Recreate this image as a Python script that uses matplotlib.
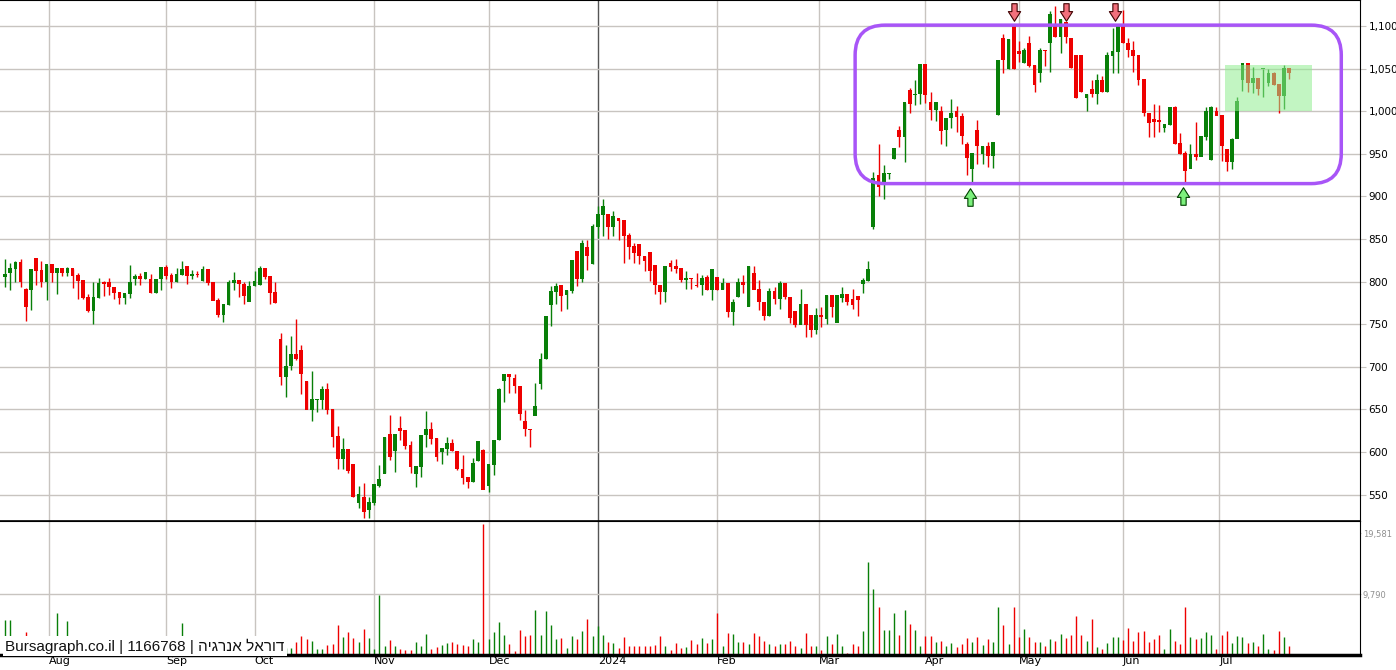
import numpy as np
import matplotlib
matplotlib.use("Agg")
import matplotlib.pyplot as plt
from matplotlib.path import Path
from matplotlib.patches import FancyBboxPatch, Rectangle
from matplotlib.transforms import IdentityTransform

opens = [806,810,815,823,791,790,827,813,800,820,810,815,811,815,807,801,781,766,781,799,799,793,787,781,786,804,806,803,803,787,804,817,807,800,808,818,807,809,801,814,799,778,761,773,799,801,797,777,795,796,815,806,787,
         732,688,701,715,719,683,650,662,662,673,650,618,592,603,585,541,547,532,541,561,575,621,601,628,625,608,575,583,620,627,616,600,604,610,601,
         580,570,565,590,602,560,585,
         614,684,691,687,677,636,627,643,680,709,773,788,796,785,789,836,803,840,821,865,879,879,864,874,872,854,841,844,830,834,819,796,788,822,818,815,802,804,796,796,805,790,805,791,798,765,782,799,771,810,791,776,760,789,780,798,782,765,750,773,760,744,760,756,784,752,781,785,779,783,798,801,
         865,925,916,927,944,978,970,1025,1019,1020,1055,1010,1002,1000,978,992,1000,994,961,932,978,950,959,948,996,1086,1050,1100,1070,1057,1080,1054,1045,1072,1080,1099,1087,1104,1086,1065,1065,1016,1026,1020,1036,1023,1065,1070,1100,1080,1072,1065,1037,998,990,989,981,984,1005,962,950,933,949,947,970,943,1000,995,955,941,968,1037,1056,1034,1039,1050,1034,1045,1031,1018,1050]
highs = [827,822,824,827,793,815,827,824,820,820,815,815,817,815,810,801,786,799,804,801,804,793,787,786,819,809,810,811,809,803,817,819,810,816,824,818,814,812,818,814,799,781,773,802,811,801,800,801,813,818,815,806,799,
         740,726,736,756,726,683,695,662,678,681,650,631,616,603,585,560,564,547,562,585,618,643,621,642,625,613,583,620,648,635,616,604,618,615,601,
         596,570,593,613,603,585,614,
         675,691,691,691,677,649,627,681,716,759,795,798,796,790,825,836,849,849,868,889,897,879,883,874,872,857,845,844,830,834,819,796,818,825,826,815,813,804,810,808,808,815,805,804,798,780,804,808,818,818,802,776,792,794,801,798,782,765,791,773,760,769,770,784,784,784,794,785,791,783,804,824,
         929,962,937,928,956,983,1010,1027,1037,1055,1055,1022,1010,1006,992,1014,1006,998,964,951,990,959,964,964,1060,1091,1085,1101,1082,1074,1088,1054,1074,1072,1118,1123,1108,1104,1086,1065,1065,1020,1037,1044,1041,1070,1098,1100,1119,1086,1082,1065,1037,998,1009,1007,984,1005,1006,974,953,962,987,970,1005,1006,1005,995,955,969,1017,1056,1056,1052,1039,1050,1050,1046,1031,1054,1050]
lows = [794,790,799,794,754,767,796,794,778,799,786,806,807,792,780,780,764,750,781,783,784,779,774,774,781,796,796,803,787,787,790,803,792,800,808,797,803,805,801,796,778,759,752,773,790,782,774,777,795,796,803,774,775,
        679,665,696,708,668,650,636,647,650,645,606,580,580,575,547,534,522,522,538,559,575,591,577,614,603,575,559,571,606,609,590,586,597,601,579,
        563,558,565,590,556,553,573,
        614,659,669,669,637,619,606,643,674,709,748,774,766,768,787,795,800,814,821,851,853,850,853,849,822,827,822,821,812,801,785,774,776,812,810,800,791,791,794,784,790,778,790,791,759,749,782,787,771,791,767,755,760,774,768,779,751,747,750,735,735,739,747,750,759,752,776,772,768,760,787,801,
        862,901,897,920,944,958,940,998,1007,1009,1010,990,988,961,959,980,976,961,925,915,938,938,935,933,996,1045,1050,1050,1058,1057,1052,1022,1034,1053,1046,1087,1068,1080,1051,1016,1023,1000,1017,1009,1023,1023,1045,1045,1080,1064,1046,1031,994,970,970,975,976,984,962,950,916,933,943,947,966,943,995,941,930,932,968,1024,1023,1021,1019,1017,1030,1031,998,1002,1038]
closes = [809,815,823,800,771,814,813,800,820,810,815,811,815,807,801,781,766,781,798,797,794,787,781,786,799,806,803,811,787,803,817,807,800,808,814,807,809,808,814,799,778,761,773,799,801,797,784,795,800,815,806,787,775,
          688,701,715,710,692,650,662,662,673,650,618,592,603,578,547,550,530,541,562,568,617,594,621,625,608,583,583,620,627,616,595,604,610,601,581,
          570,565,587,613,556,585,614,
          674,691,689,678,645,627,626,654,709,759,788,795,784,790,825,803,845,831,865,879,888,864,876,872,854,841,834,830,825,813,796,788,818,818,815,802,804,803,795,804,790,814,790,798,765,776,799,796,818,791,776,760,789,780,798,782,758,750,773,749,744,760,759,784,771,784,785,776,773,779,801,814,
          921,911,927,927,956,970,1010,1009,1020,1055,1019,1002,1010,977,992,998,994,971,945,951,959,959,948,963,1060,1060,1084,1050,1067,1072,1054,1031,1072,1071,1114,1087,1108,1087,1051,1016,1023,1020,1020,1036,1023,1065,1070,1100,1080,1072,1065,1037,998,986,988,988,984,1005,962,950,930,949,947,970,1000,1005,995,959,941,967,1011,1056,1034,1039,1026,1050,1045,1031,1018,1050,1045]

# volume, in units of 160.5 shares
volumes = [35,35,10,12,23,10,8,12,10,9,42,10,34,10,8,9,10,9,8,10,9,10,8,10,9,8,12,10,9,8,10,9,11,9,32,10,9,8,10,9,8,10,9,11,10,9,8,10,9,12,10,9,8,11,
           7,7,13,19,16,14,6,6,10,11,30,18,23,17,13,26,17,6,60,9,15,9,6,5,5,13,9,21,6,8,10,12,13,11,10,9,16,13,131,16,23,33,20,11,4,25,19,20,45,20,44,30,16,17,7,19,16,24,36,19,29,20,13,12,7,18,9,9,9,9,9,10,19,9,5,12,7,8,
           15,11,17,12,16,42,9,22,21,13,13,11,22,19,14,11,9,11,11,14,9,7,22,9,9,5,19,11,21,9,2,11,9,24,93,66,48,25,25,42,20,45,31,25,9,19,19,13,14,9,12,8,11,17,13,18,10,16,13,48,30,11,48,18,26,18,13,13,9,16,14,21,17,20,39,20,14,36,8,6,12,18,18,15,27,14,23,24,13,16,20,6,26,14,11,48,18,16,17,23,20,6,20,24,12,19,18,12,13,9,21,6,5,24,18,9]
VOL_UNIT = 160.5

month_labels = ["Aug", "Sep", "Oct", "Nov", "Dec", "2024", "Feb", "Mar", "Apr", "May", "Jun", "Jul"]
month_pos = [8.5, 31, 48, 71, 93, 114, 137, 156.5, 177, 195, 215, 233.5]
price_ticks = [550, 600, 650, 700, 750, 800, 850, 900, 950, 1000, 1050, 1100]
vol_ticks = [9790, 19581]
down_arrows = [(194, 1116), (204, 1116), (213.5, 1116)]
up_arrows = [(185.5, 899), (226.5, 900)]
channel = (163.5, 915, 257, 1101)
green_zone = (234.6, 1000, 251.3, 1054)

o, h, l, c = map(np.array, (opens, highs, lows, closes))
n = len(o)
x = np.arange(n)
RED, GREEN = "#ee0000", "#087f08"
up = c >= o
cols = np.where(up, GREEN, RED)

W, H = 1396, 670
fig = plt.figure(figsize=(W/100, H/100), dpi=100)
axp = fig.add_axes([0, (670-521)/H, 1360/W, 521/H])
axv = fig.add_axes([0, 15/H, 1360/W, 134/H], sharex=axp)

xl = (-0.96, 260.6)
axp.set_xlim(*xl)
axp.set_ylim(519, 1130.5)
axv.set_ylim(0, 134*VOL_UNIT)

for ax in (axp, axv):
    for mp, ml in zip(month_pos, month_labels):
        ax.axvline(mp, color="#555555" if ml == "2024" else "#c8c4c0", lw=1, zorder=0)
    ax.yaxis.tick_right()
    ax.tick_params(axis="y", length=4, color="#c8c4c0", labelsize=7.5, pad=2)
    ax.spines["left"].set_visible(False)
    ax.spines["right"].set_color("black")
    ax.spines["top"].set_color("black")

for t in price_ticks:
    axp.axhline(t, color="#c8c4c0", lw=1, zorder=0)
axp.set_yticks(price_ticks)
axp.set_yticklabels([f"{t:,}" for t in price_ticks])
axp.tick_params(axis="x", bottom=False, labelbottom=False)
axp.spines["bottom"].set_linewidth(1.2)

# candles
axp.vlines(x, l, h, colors=cols, lw=1, zorder=2)
axp.bar(x, np.abs(c-o)+0.8, bottom=np.minimum(o, c)-0.4, width=0.72, color=cols, zorder=3)

# volume
vol = np.array(volumes) * VOL_UNIT
axv.vlines(x, 0, vol, colors=cols, lw=1, zorder=2)
axv.axhline(vol_ticks[0], color="#c8c4c0", lw=1, zorder=0)
axv.set_yticks(vol_ticks)
axv.set_yticklabels([f"{t:,}" for t in vol_ticks], color="#909090", fontsize=6)
axv.tick_params(axis="y", length=1, pad=1)
axv.spines["bottom"].set_linewidth(2.5)
axv.set_xticks(month_pos)
axv.set_xticklabels(month_labels, fontsize=8, ha="left")
axv.tick_params(axis="x", length=0, pad=1)

heb = "דוראל אנרגיה"[::-1]
axv.text(0.004, 0.01, "Bursagraph.co.il | 1166768 | " + heb, transform=axv.transAxes,
         fontsize=11, family=["Liberation Sans Narrow", "Liberation Sans", "DejaVu Sans"],
         ha="left", va="bottom", color="#111111", zorder=10,
         bbox=dict(facecolor="white", edgecolor="none", pad=1.5))

# green zone
gz = green_zone
axp.add_patch(Rectangle((gz[0], gz[1]), gz[2]-gz[0], gz[3]-gz[1], facecolor="#90ee90", alpha=0.55, edgecolor="none", zorder=4))

# channel rounded box in pixel coords
p0 = axp.transData.transform((channel[0], channel[1]))
p1 = axp.transData.transform((channel[2], channel[3]))
box = FancyBboxPatch((p0[0], p0[1]), p1[0]-p0[0], p1[1]-p0[1],
                     boxstyle="round,pad=0,rounding_size=30", transform=IdentityTransform(),
                     facecolor="none", edgecolor="#a855f7", lw=2.5, zorder=5)
fig.add_artist(box)

down = Path([(-0.3, 1), (0.3, 1), (0.3, 0.1), (0.7, 0.1), (0, -1), (-0.7, 0.1), (-0.3, 0.1), (-0.3, 1)], closed=True)
upm = Path([(-0.3, -1), (0.3, -1), (0.3, -0.1), (0.7, -0.1), (0, 1), (-0.7, -0.1), (-0.3, -0.1), (-0.3, -1)], closed=True)
axp.scatter([a[0] for a in down_arrows], [a[1] for a in down_arrows], marker=down, s=160,
            facecolor="#f2707c", edgecolor="#400000", lw=0.8, zorder=6, clip_on=False)
axp.scatter([a[0] for a in up_arrows], [a[1] for a in up_arrows], marker=upm, s=160,
            facecolor="#7cf07c", edgecolor="#004000", lw=0.8, zorder=6, clip_on=False)

fig.savefig("out.png", dpi=100, facecolor="white")
